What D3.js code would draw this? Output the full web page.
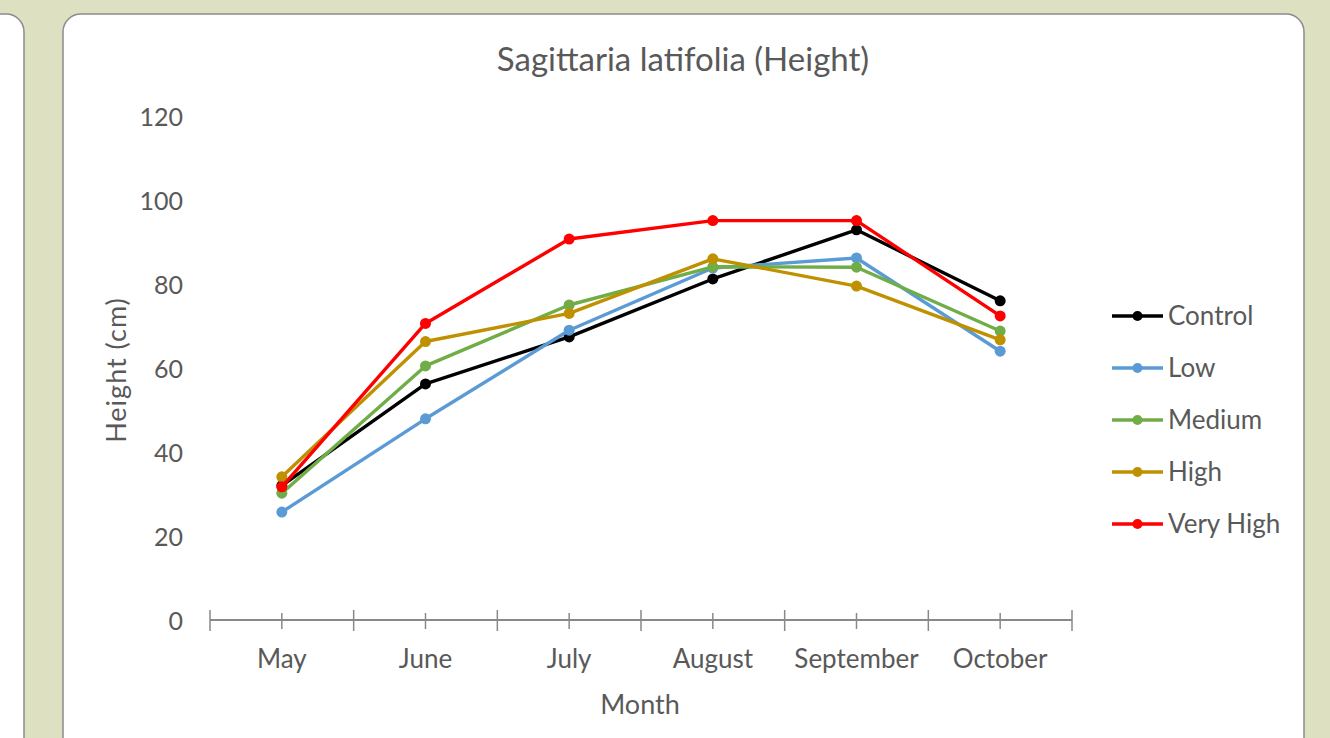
<!DOCTYPE html>
<html>
<head>
<meta charset="utf-8">
<script src="https://cdn.jsdelivr.net/npm/d3@7"></script>
<style>
  html, body { margin: 0; padding: 0; background: #dde1c1; }
  svg { display: block; }
  text { font-family: Lato, "Open Sans", sans-serif; fill: #595959; }
</style>
</head>
<body>
<div id="chart"></div>
<script>
// data
const months = ["May", "June", "July", "August", "September", "October"]
const control = [32, 56.2, 67.4, 81.2, 92.9, 76]
const low = [25.7, 47.9, 69, 83.8, 86.2, 64]
const medium = [30.2, 60.5, 75, 84.1, 84, 68.8]
const high = [34.1, 66.3, 73, 86, 79.5, 66.7]
const veryHigh = [31.7, 70.6, 90.7, 95.1, 95.1, 72.4]
const yTicks = [0, 20, 40, 60, 80, 100, 120]

const series = [
  { name: "Control", values: control, color: "#000000" },
  { name: "Low", values: low, color: "#5b9bd5" },
  { name: "Medium", values: medium, color: "#70ad47" },
  { name: "High", values: high, color: "#bf9000" },
  { name: "Very High", values: veryHigh, color: "#ff0000" }
]

const W = 1330, H = 738
const plot = { left: 210, right: 1072, top: 116, bottom: 620 }

const svg = d3.select("#chart").append("svg")
  .attr("width", W)
  .attr("height", H)

// panels
svg.append("rect")
  .attr("x", -40).attr("y", 14)
  .attr("width", 64).attr("height", 800)
  .attr("rx", 18)
  .attr("fill", "#fff").attr("stroke", "#8c8c8c").attr("stroke-width", 1.5)

svg.append("rect")
  .attr("x", 63).attr("y", 14)
  .attr("width", 1241).attr("height", 800)
  .attr("rx", 18)
  .attr("fill", "#fff").attr("stroke", "#8c8c8c").attr("stroke-width", 1.5)

const x = d3.scaleBand()
  .domain(months)
  .range([plot.left, plot.right])

const y = d3.scaleLinear()
  .domain([0, 120])
  .range([plot.bottom, plot.top])

const cx = m => x(m) + x.bandwidth() / 2

// title
svg.append("text")
  .attr("x", 683).attr("y", 71)
  .attr("text-anchor", "middle")
  .style("font-size", "33px")
  .text("Sagittaria latifolia (Height)")

// y axis labels (no line)
const yAxis = svg.append("g")
  .attr("transform", "translate(183,0)")
  .call(d3.axisLeft(y).tickValues(yTicks).tickSize(0).tickPadding(0))
yAxis.select(".domain").remove()
yAxis.selectAll("text")
  .attr("fill", null)
  .attr("dy", "0.36em")
  .style("font-size", "25px")
  .attr("font-family", null)

// x axis: line, boundary ticks and center ticks
const xAxis = svg.append("g")
xAxis.append("line")
  .attr("x1", plot.left).attr("x2", plot.right)
  .attr("y1", plot.bottom).attr("y2", plot.bottom)
  .attr("stroke", "#898989").attr("stroke-width", 2)

const bounds = months.map(m => x(m)).concat([plot.right])
xAxis.selectAll(".major").data(bounds).join("line")
  .attr("class", "major")
  .attr("x1", d => d).attr("x2", d => d)
  .attr("y1", plot.bottom - 10).attr("y2", plot.bottom + 11)
  .attr("stroke", "#898989").attr("stroke-width", 1.5)

xAxis.selectAll(".minor").data(months).join("line")
  .attr("class", "minor")
  .attr("x1", d => cx(d)).attr("x2", d => cx(d))
  .attr("y1", plot.bottom - 7).attr("y2", plot.bottom + 9)
  .attr("stroke", "#898989").attr("stroke-width", 1.5)

xAxis.selectAll(".mlabel").data(months).join("text")
  .attr("class", "mlabel")
  .attr("x", d => cx(d)).attr("y", 668)
  .attr("text-anchor", "middle")
  .style("font-size", "26px")
  .text(d => d)

// axis titles
svg.append("text")
  .attr("x", 640).attr("y", 714)
  .attr("text-anchor", "middle")
  .style("font-size", "27px")
  .text("Month")

svg.append("text")
  .attr("transform", "translate(126,370) rotate(-90)")
  .attr("text-anchor", "middle")
  .style("font-size", "27px")
  .style("letter-spacing", "1px")
  .text("Height (cm)")

// lines
const line = d3.line()
  .x((d, i) => cx(months[i]))
  .y(d => y(d))

series.forEach(s => {
  const g = svg.append("g")
  g.append("path")
    .datum(s.values)
    .attr("d", line)
    .attr("fill", "none")
    .attr("stroke", s.color)
    .attr("stroke-width", 3.4)
    .attr("stroke-linejoin", "round")
  g.selectAll("circle").data(s.values).join("circle")
    .attr("cx", (d, i) => cx(months[i]))
    .attr("cy", d => y(d))
    .attr("r", 5.5)
    .attr("fill", s.color)
})

// legend
const legend = svg.append("g")
  .attr("transform", "translate(1112,316)")
series.forEach((s, i) => {
  const row = legend.append("g").attr("transform", `translate(0,${i * 52})`)
  row.append("line")
    .attr("x1", 0).attr("x2", 51)
    .attr("stroke", s.color).attr("stroke-width", 3.4)
  row.append("circle")
    .attr("cx", 25.5).attr("r", 5)
    .attr("fill", s.color)
  row.append("text")
    .attr("x", 56).attr("dy", "0.35em")
    .style("font-size", "26px")
    .text(s.name)
})
</script>
</body>
</html>
